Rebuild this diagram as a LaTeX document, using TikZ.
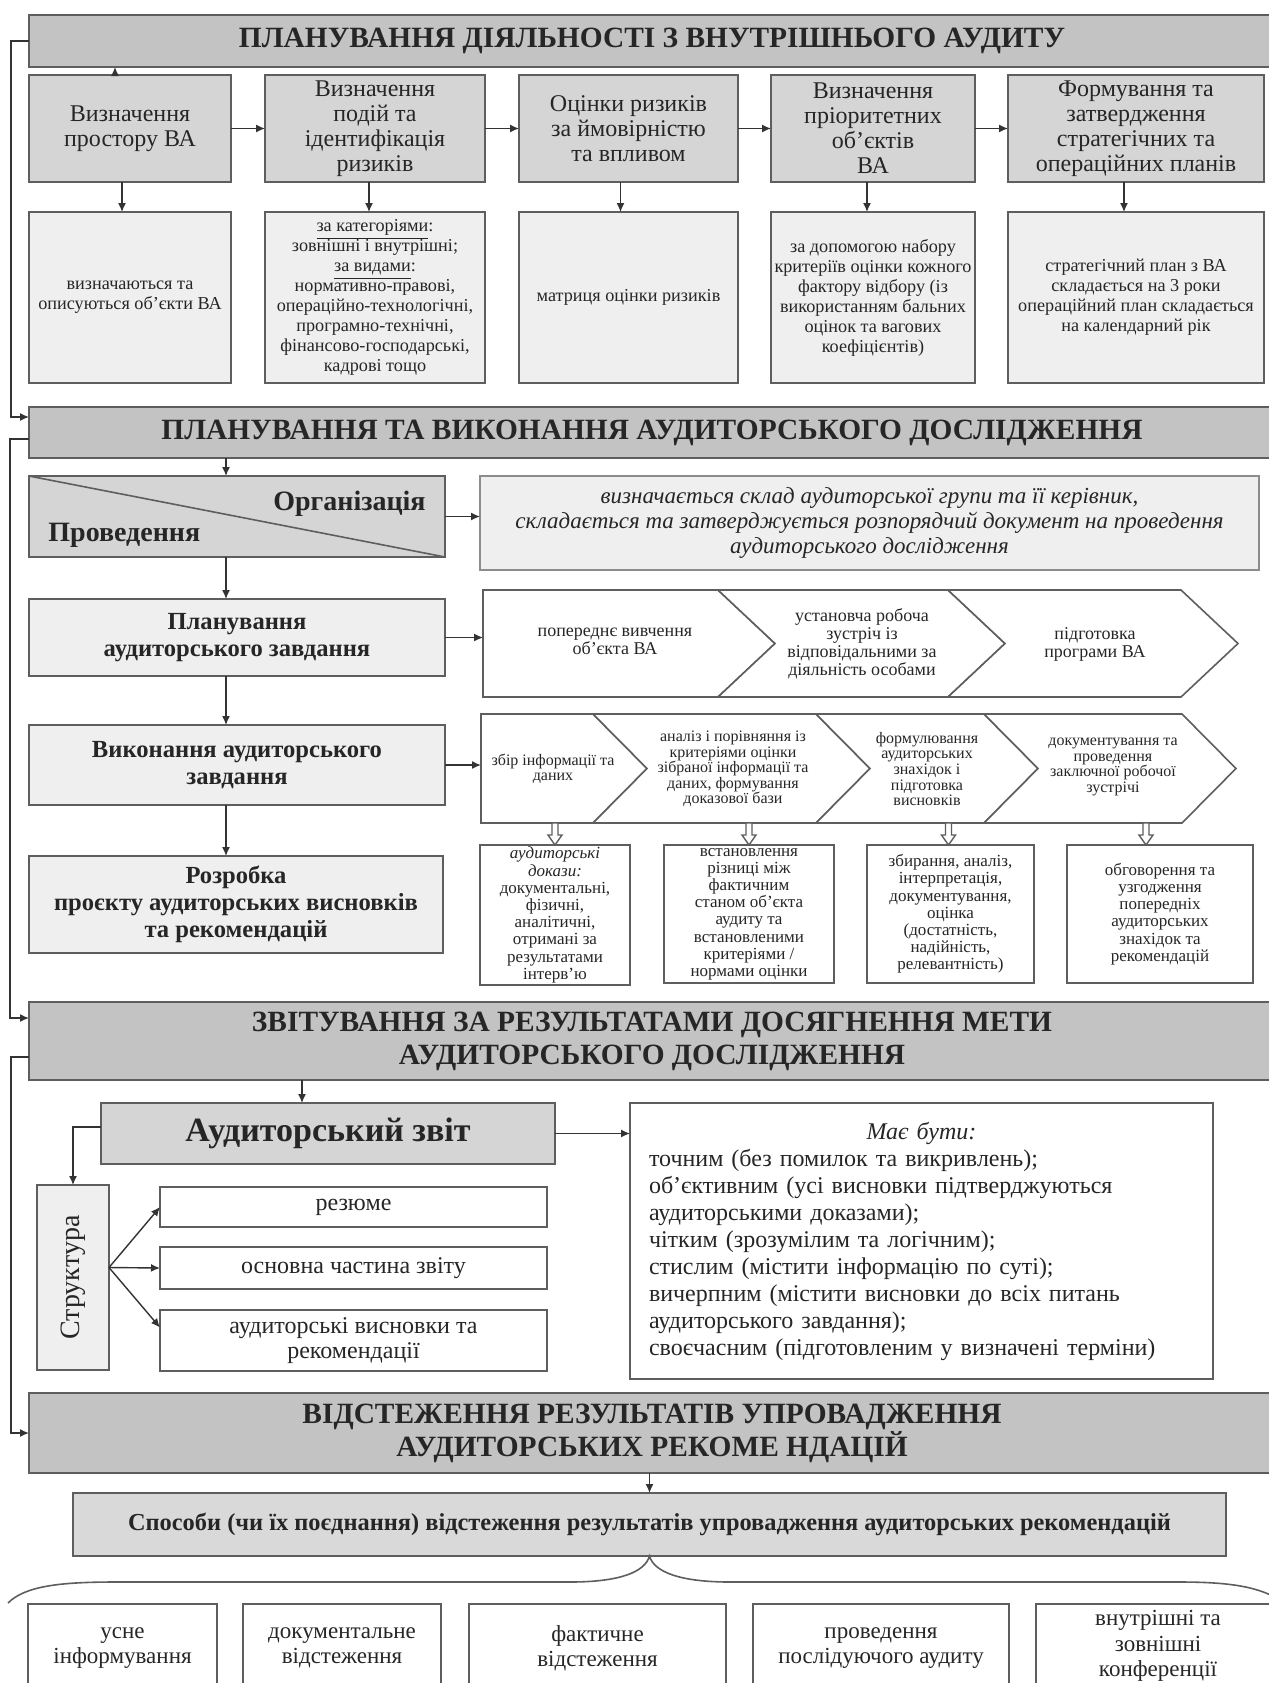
\documentclass[tikz,border=0pt]{standalone}
\usepackage{fontspec}
\setmainfont{Liberation Serif}
\usetikzlibrary{arrows.meta,calc}

\definecolor{bordc}{HTML}{5E5E5E}
\definecolor{bannerc}{HTML}{C3C3C3}
\definecolor{midc}{HTML}{D5D5D5}
\definecolor{spc}{HTML}{D9D9D9}
\definecolor{lightc}{HTML}{EFEFEF}
\definecolor{txtc}{HTML}{262626}

\newcommand\fsz[2]{\fontsize{#1}{#2}\selectfont}
% box from its corners (x1,y1)-(x2,y2), given in pixel units
\newcommand\pxbox[7]{\node[#2, anchor=north west,
  minimum width={(#5-(#3))*0.5pt}, minimum height={(#6-(#4))*0.5pt}] (#1) at (#3,#4) {#7};}

\begin{document}
\begin{tikzpicture}[x=0.5pt,y=-0.5pt,
  base/.style={draw=bordc, line width=0.9pt, outer sep=0pt, inner sep=1pt, align=center, text=txtc},
  banner/.style={base, fill=bannerc, font=\bfseries\fsz{14.7}{16.5}},
  midbox/.style={base, fill=midc},
  lightbox/.style={base, fill=lightc},
  whitebox/.style={base, fill=white},
  topbox/.style={midbox, font=\fsz{12}{12.5}},
  lowbox/.style={lightbox, font=\fsz{9.1}{10}},
  stepboxb/.style={lightbox, font=\bfseries\fsz{12.3}{13.5}},
  chtxt/.style={align=center, text=txtc, inner sep=0pt},
  dbox/.style={whitebox, font=\fsz{8.5}{8.6}},
  sbox/.style={whitebox, font=\fsz{12}{12.5}},
  ebox/.style={whitebox, font=\fsz{11.5}{12.6}},
  arr/.style={-{Latex[length=4.5pt,width=4pt]}, line width=0.7pt, draw=black!80},
  chev/.style={draw=bordc, line width=0.8pt, fill=white},
  brace/.style={draw=bordc, line width=0.8pt},
  hollowdown/.pic={\draw[draw=bordc, line width=0.7pt, fill=white]
    (-3,0) -- (3,0) -- (3,12) -- (7,12) -- (0,22) -- (-7,12) -- (-3,12) -- cycle;}
]
\useasboundingbox (0,0) rectangle (1269,1683);
\clip (0,0) rectangle (1269,1683);
\fill[white] (0,0) rectangle (1269,1683);

% ---------- stage banners ----------
\pxbox{b1}{banner}{29}{15}{1275}{67}{ПЛАНУВАННЯ ДІЯЛЬНОСТІ З ВНУТРІШНЬОГО АУДИТУ}
\pxbox{b2}{banner}{29}{407}{1275}{458}{ПЛАНУВАННЯ ТА ВИКОНАННЯ АУДИТОРСЬКОГО ДОСЛІДЖЕННЯ}
\pxbox{b3}{banner}{29}{1002}{1275}{1080}{ЗВІТУВАННЯ ЗА РЕЗУЛЬТАТАМИ ДОСЯГНЕННЯ МЕТИ\\АУДИТОРСЬКОГО ДОСЛІДЖЕННЯ}
\pxbox{b4}{banner}{29}{1393}{1275}{1473}{ВІДСТЕЖЕННЯ РЕЗУЛЬТАТІВ УПРОВАДЖЕННЯ\\АУДИТОРСЬКИХ РЕКОМЕ НДАЦІЙ}

% loops on the left linking the stages
\draw[arr] (b1.west) -- ++(-18,0) |- ($(b2.north west)+(0,10)$);
\draw[arr] ($(b2.south west)+(0,-19)$) -- ++(-19,0) |- ($(b3.north west)+(0,16)$);
\draw[arr] ($(b3.south west)+(0,-23)$) -- ++(-18,0) |- (b4.west);

% ---------- 1. planning of internal audit activity ----------
\pxbox{t1}{topbox}{29}{75}{231}{182}{Визначення\\простору ВА}
\pxbox{t2}{topbox}{265}{75}{485}{182}{Визначення\\подій та\\ідентифікація\\ризиків}
\pxbox{t3}{topbox}{519}{75}{738}{182}{Оцінки ризиків\\за ймовірністю\\та впливом}
\pxbox{t4}{topbox}{771}{75}{975}{182}{Визначення\\пріоритетних\\об’єктів\\ВА}
\pxbox{t5}{topbox}{1008}{75}{1264}{182}{Формування та\\затвердження\\стратегічних та\\операційних планів}

\pxbox{l1}{lowbox}{29}{212}{231}{383}{визначаються та\\описуються об’єкти ВА}
\pxbox{l2}{lowbox}{265}{212}{485}{383}{\underline{за категоріями}:\\зовнішні і внутрішні;\\\underline{за видами}:\\нормативно-правові,\\операційно-технологічні,\\програмно-технічні,\\фінансово-господарські,\\кадрові тощо}
\pxbox{l3}{lowbox}{519}{212}{738}{383}{матриця оцінки ризиків}
\pxbox{l4}{lowbox}{771}{212}{975}{383}{за допомогою набору\\критеріїв оцінки кожного\\фактору відбору (із\\використанням бальних\\оцінок та вагових\\коефіцієнтів)}
\pxbox{l5}{lowbox}{1008}{212}{1264}{383}{стратегічний план з ВА\\складається на 3 роки\\операційний план складається\\на календарний рік}

\foreach \a/\b in {t1/t2,t2/t3,t3/t4,t4/t5} \draw[arr] (\a.east) -- (\b.west);
\foreach \i/\dx in {1/-8,2/-6,3/-8,4/-6,5/-12}
  \draw[arr] ($(t\i.south)+(\dx,0)$) -- ($(l\i.north)+(\dx,0)$);
\coordinate (up1) at ($(t1.north)+(-15,0)$);
\draw[arr] (up1) -- (up1 |- b1.south);

% ---------- 2. planning and performing the audit ----------
\pxbox{org}{midbox}{29}{476}{445}{557}{}
\draw[draw=bordc, line width=0.8pt] (org.north west) -- (org.south east);
\node[chtxt, font=\bfseries\fsz{14}{16}, anchor=east] (orgtop) at (426,504) {Організація};
\node[chtxt, font=\bfseries\fsz{14}{16}, anchor=west] (orgbot) at (48,535) {Проведення};

\pxbox{info}{lightbox, draw=black!45, font=\itshape\fsz{11.5}{12.5}}{480}{476}{1259}{570}{визначається склад аудиторської групи та її керівник,\\складається та затверджується розпорядчий документ на проведення\\аудиторського дослідження}
\draw[arr] (org.east) -- (org.east -| info.west);

\pxbox{plan}{stepboxb}{29}{599}{445}{676}{Планування\\аудиторського завдання}
\pxbox{exec}{stepboxb}{29}{725}{445}{805}{Виконання аудиторського\\завдання}
\pxbox{rozr}{stepboxb}{29}{856}{443}{953}{Розробка\\проєкту аудиторських висновків\\та рекомендацій}

\coordinate (cx) at (226,0);
\draw[arr] (cx |- b2.south) -- (cx |- org.north);
\draw[arr] (cx |- org.south) -- (cx |- plan.north);
\draw[arr] (cx |- plan.south) -- (cx |- exec.north);
\draw[arr] (cx |- exec.south) -- (cx |- rozr.north);

% chevron row of the planning stage
\draw[chev] (483,590) -- (718,590) -- (775,643.5) -- (718,697) -- (483,697) -- cycle;
\draw[chev] (718,590) -- (948,590) -- (1005,643.5) -- (948,697) -- (718,697) -- (775,643.5) -- cycle;
\draw[chev] (948,590) -- (1181,590) -- (1238,643.5) -- (1181,697) -- (948,697) -- (1005,643.5) -- cycle;
\coordinate (r1w) at (483,643.5);
\node[chtxt, font=\fsz{9}{9}] (c11) at (615,641) {попереднє вивчення\\об’єкта ВА};
\node[chtxt, font=\fsz{9}{9}] (c12) at (862,644) {установча робоча\\зустріч із\\відповідальними за\\діяльність особами};
\node[chtxt, font=\fsz{9}{9}] (c13) at (1095,644) {підготовка\\програми ВА};
\draw[arr] (plan.east) -- (plan.east -| r1w);

% chevron row of the performing stage
\draw[chev] (481,714) -- (593,714) -- (647,768.5) -- (593,823) -- (481,823) -- cycle;
\draw[chev] (593,714) -- (816,714) -- (870,768.5) -- (816,823) -- (593,823) -- (647,768.5) -- cycle;
\draw[chev] (816,714) -- (984,714) -- (1038,768.5) -- (984,823) -- (816,823) -- (870,768.5) -- cycle;
\draw[chev] (984,714) -- (1182,714) -- (1236,768.5) -- (1182,823) -- (984,823) -- (1038,768.5) -- cycle;
\coordinate (r2w) at (481,768.5);
\node[chtxt, font=\fsz{8}{7.8}] (c21) at (553,769) {збір інформації та\\даних};
\node[chtxt, font=\fsz{8}{7.8}] (c22) at (733,769) {аналіз і порівняння із\\критеріями оцінки\\зібраної інформації та\\даних, формування\\доказової бази};
\node[chtxt, font=\fsz{8}{7.8}] (c23) at (927,769) {формулювання\\аудиторських\\знахідок і\\підготовка\\висновків};
\node[chtxt, font=\fsz{8}{7.8}] (c24) at (1113,767) {документування та\\проведення\\заключної робочої\\зустрічі};
\draw[arr] (exec.east) -- (exec.east -| r2w);

\pxbox{d1}{dbox}{480}{845}{630}{983}{\textit{аудиторські}\\\textit{докази:}\\документальні,\\фізичні,\\аналітичні,\\отримані за\\результатами\\інтерв’ю}
\pxbox{d2}{dbox}{664}{845}{834}{983}{встановлення\\різниці між\\фактичним\\станом об’єкта\\аудиту та\\встановленими\\критеріями /\\нормами оцінки}
\pxbox{d3}{dbox}{867}{845}{1034}{983}{збирання, аналіз,\\інтерпретація,\\документування,\\оцінка\\(достатність,\\надійність,\\релевантність)}
\pxbox{d4}{dbox}{1067}{845}{1253}{983}{обговорення та\\узгодження\\попередніх\\аудиторських\\знахідок та\\рекомендацій}
\foreach \i/\dx in {1/0,2/0,3/-2,4/-14}
  \pic at ($(d\i.north)+(\dx,-22)$) {hollowdown};

% ---------- 3. reporting ----------
\pxbox{az}{midbox, font=\bfseries\fsz{17}{19}}{101}{1103}{555}{1164}{Аудиторський звіт}
\coordinate (ax) at (302,0);
\draw[arr] (ax |- b3.south) -- (ax |- az.north);

\pxbox{str}{lightbox}{37}{1185}{109}{1370}{}
\node[chtxt, rotate=90, font=\fsz{14}{16}] (strt) at (str.center) {Структура};
\draw[arr] ($(az.north west)+(0,24)$) -| (str.north);

\pxbox{s1}{sbox}{160}{1187}{547}{1227}{резюме}
\pxbox{s2}{sbox}{160}{1247}{547}{1289}{основна частина звіту}
\pxbox{s3}{sbox}{160}{1310}{547}{1371}{аудиторські висновки та\\рекомендації}
\coordinate (sfork) at ($(str.east)+(0,-10)$);
\draw[arr] (sfork) -- (s1.west);
\draw[arr] (sfork) -- (s2.west);
\draw[arr] (sfork) -- ($(s3.west)+(0,-13)$);

\node[whitebox, anchor=north west, align=left, font=\fsz{12}{13.5},
  minimum height={(1372-1103)*0.5pt}, inner sep=9.5pt, text width=272.5pt] (must) at (630,1103)
  {{\centering\itshape Має бути:\par}
   точним (без помилок та викривлень);\\
   об’єктивним (усі висновки підтверджуються\\
   аудиторськими доказами);\\
   чітким (зрозумілим та логічним);\\
   стислим (містити інформацію по суті);\\
   вичерпним (містити висновки до всіх питань\\
   аудиторського завдання);\\
   своєчасним (підготовленим у визначені терміни)};
\draw[arr] (az.east) -- (az.east -| must.west);

% ---------- 4. follow-up ----------
\pxbox{sp}{midbox, fill=spc, font=\bfseries\fsz{12.2}{13}}{73}{1493}{1226}{1556}{Способи (чи їх поєднання) відстеження результатів упровадження аудиторських рекомендацій}
\draw[arr] (sp.north |- b4.south) -- (sp.north);

\draw[brace] (8,1603) .. controls (25,1586) and (60,1582) .. (115,1582) -- (570,1582)
  .. controls (620,1582) and (645,1572) .. (sp.south)
  .. controls (654,1572) and (680,1582) .. (730,1582) -- (1180,1582)
  .. controls (1235,1582) and (1260,1588) .. (1280,1600);

\pxbox{e1}{ebox}{28}{1604}{217}{1692}{усне\\інформування}
\pxbox{e2}{ebox}{243}{1604}{441}{1692}{документальне\\відстеження}
\pxbox{e3}{ebox}{469}{1604}{726}{1692}{фактичне\\відстеження}
\pxbox{e4}{ebox}{753}{1604}{1009}{1692}{проведення\\послідуючого аудиту}
\pxbox{e5}{ebox}{1036}{1604}{1280}{1688}{внутрішні та\\зовнішні\\конференції}
\end{tikzpicture}
\end{document}
